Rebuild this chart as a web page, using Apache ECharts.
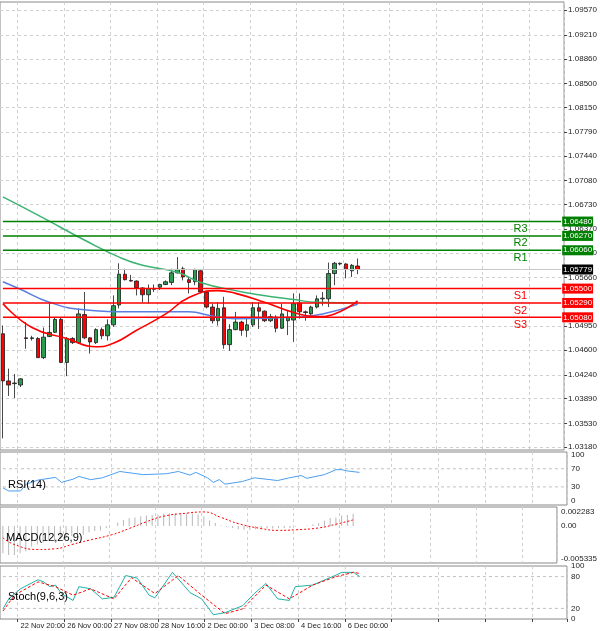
<!DOCTYPE html>
<html><head><meta charset="utf-8">
<script src="https://cdn.jsdelivr.net/npm/echarts@6/dist/echarts.min.js"></script>
<style>html,body{margin:0;padding:0;background:#fff}#c{width:600px;height:631px}</style>
</head><body><div id="c"></div>
<script>
// EURUSD H4 style chart: candles + MAs + pivots, RSI / MACD / Stoch panes
const SLOTS = 97
const TICKS = { 3: '22 Nov 20:00', 11: '26 Nov 00:00', 19: '27 Nov 08:00', 27: '28 Nov 16:00', 35: '2 Dec 00:00', 43: '3 Dec 08:00', 51: '4 Dec 16:00', 59: '6 Dec 00:00' }
const PRICE_TICKS = [1.0957, 1.0921, 1.0886, 1.085, 1.0815, 1.0779, 1.0744, 1.0708, 1.0673, 1.0637, 1.0602, 1.0566, 1.0495, 1.046, 1.0424, 1.0389, 1.0353, 1.0318]

// [open, close, low, high]
const candles = [
  [1.0484,1.0415,1.0331,1.0496],[1.0415,1.0409,1.0393,1.0433],[1.0411,1.0412,1.0390,1.0425],[1.0409,1.0418,1.0406,1.0419],
  [1.0478,1.0477,1.0462,1.0501],[1.0477,1.0478,1.0474,1.0481],[1.0477,1.0449,1.0449,1.0479],[1.0449,1.0479,1.0447,1.0493],
  [1.0480,1.0486,1.0479,1.0530],[1.0486,1.0505,1.0485,1.0508],[1.0505,1.0442,1.0441,1.0507],[1.0442,1.0477,1.0422,1.0479],
  [1.0477,1.0471,1.0469,1.0479],[1.0471,1.0513,1.0469,1.0521],[1.0512,1.0478,1.0476,1.0545],[1.0478,1.0472,1.0455,1.0479],
  [1.0471,1.0490,1.0469,1.0492],[1.0490,1.0481,1.0476,1.0493],[1.0481,1.0497,1.0474,1.0505],[1.0497,1.0525,1.0494,1.0540],
  [1.0526,1.0571,1.0521,1.0587],[1.0571,1.0563,1.0562,1.0579],[1.0562,1.0561,1.0560,1.0570],[1.0561,1.0551,1.0540,1.0562],
  [1.0551,1.0541,1.0530,1.0552],[1.0541,1.0550,1.0528,1.0556],[1.0549,1.0550,1.0545,1.0556],[1.0552,1.0556,1.0548,1.0557],
  [1.0556,1.0560,1.0555,1.0562],[1.0559,1.0573,1.0555,1.0579],[1.0573,1.0578,1.0572,1.0596],[1.0579,1.0567,1.0562,1.0582],
  [1.0563,1.0559,1.0543,1.0567],[1.0560,1.0578,1.0555,1.0579],[1.0576,1.0545,1.0543,1.0577],[1.0545,1.0523,1.0521,1.0545],
  [1.0523,1.0503,1.0499,1.0528],[1.0503,1.0521,1.0496,1.0530],[1.0522,1.0468,1.0462,1.0538],[1.0468,1.0490,1.0459,1.0498],
  [1.0490,1.0501,1.0489,1.0516],[1.0501,1.0489,1.0481,1.0503],[1.0489,1.0497,1.0479,1.0506],[1.0497,1.0522,1.0494,1.0530],
  [1.0522,1.0517,1.0491,1.0530],[1.0517,1.0503,1.0501,1.0518],[1.0503,1.0509,1.0501,1.0513],[1.0508,1.0492,1.0486,1.0511],
  [1.0492,1.0513,1.0491,1.0528],[1.0503,1.0508,1.0482,1.0518],[1.0504,1.0528,1.0472,1.0543],[1.0529,1.0516,1.0506,1.0543],
  [1.0516,1.0515,1.0503,1.0518],[1.0513,1.0523,1.0511,1.0525],[1.0523,1.0535,1.0521,1.0540],[1.0535,1.0536,1.0525,1.0545],
  [1.0535,1.0572,1.0523,1.0588],[1.0572,1.0587,1.0555,1.0589],[1.0586,1.0587,1.0584,1.0588],[1.0586,1.0578,1.0565,1.0587],
  [1.0576,1.0584,1.0567,1.0586],[1.0583,1.0578,1.0571,1.0594]
]
const maSlow = [[0,1.0684],[7,1.0653],[14,1.0621],[20,1.0596],[24,1.0584],[30,1.0574],[34,1.0559],[40,1.0547],[44,1.0541],[50,1.0534],[54,1.0530],[61,1.0529]]
const maMid = [[0,1.0560],[3,1.0549],[8,1.0530],[14,1.0519],[22,1.0516],[32,1.0516],[36,1.0510],[40,1.0506],[50,1.0508],[55,1.0513],[61,1.0527]]
const maFast = [[0,1.0528],[5,1.0493],[11,1.0477],[16,1.0465],[19,1.0470],[23,1.0489],[28,1.0513],[32,1.0537],[37,1.0547],[40,1.0543],[45,1.0530],[50,1.0515],[54,1.0509],[57,1.0513],[61,1.0532]]
const pivotNames = ['R3', 'R2', 'R1', 'S1', 'S2', 'S3']
const pivotValues = [1.0648, 1.0627, 1.0606, 1.0550, 1.0529, 1.0508]
const lastPrice = 1.05779

const rsi = [[0,28],[1,21],[3,21],[4,36],[6,45],[9,51],[10,40],[12,47],[13,53],[15,46],[17,50],[20,64],[24,57],[28,59],[30,64],[32,56],[33,62],[35,50],[36,40],[37,46],[38,36],[41,42],[43,50],[47,44],[49,50],[51,55],[52,49],[55,57],[57,68],[58,68],[59,65],[61,62]]
const macdHist = [-0.0044,-0.0047,-0.0047,-0.0044,-0.0041,-0.0033,-0.0030,-0.0027,-0.0023,-0.0025,-0.0021,-0.0019,-0.0016,-0.0014,-0.0014,-0.0010,-0.0008,-0.0007,-0.0003,0,
  0.0006,0.0010,0.0013,0.0014,0.0016,0.0017,0.0018,0.0019,0.0020,0.0021,0.0021,0.0021,0.0021,0.0020,0.0019,0.0016,0.0009,0.0005,0.0001,-0.0001,
  -0.0003,-0.0005,-0.0006,-0.0006,-0.0005,-0.0005,-0.0004,-0.0004,-0.0003,-0.0003,-0.0003,-0.0001,0,0.0001,0.0003,0.0005,0.0009,0.0013,0.0014,0.0017,0.0018,0.0020]
const macdSignal = [[0,-0.0019],[2,-0.0030],[6,-0.0038],[9,-0.0037],[12,-0.0030],[15,-0.0023],[19,-0.0014],[22,-0.0004],[25,0.0007],[28,0.0016],[32,0.0021],[35,0.0023],[38,0.0014],[41,0.0004],[45,-0.0004],[48,-0.0007],[51,-0.0006],[55,-0.0003],[58,0.0003],[61,0.0010]]
const stochK = [[0,19],[1,38],[3,57],[6,74],[7,70],[8,61],[9,64],[10,48],[12,35],[13,61],[15,57],[17,38],[19,41],[21,82],[23,77],[25,45],[26,40],[29,88],[32,50],[34,38],[36,8],[38,12],[41,25],[43,48],[45,67],[47,38],[49,35],[50,61],[53,64],[57,83],[58,88],[60,88],[61,80]]
const stochD = [[0,15],[2,45],[6,70],[9,61],[12,45],[15,57],[19,38],[22,78],[26,48],[30,82],[34,45],[38,10],[41,19],[45,64],[49,38],[53,64],[57,80],[60,88],[61,86]]

const LAST = SLOTS - 1, TAG = 89
const cats = Array.from({ length: SLOTS }, (_, i) => TICKS[i] || '')
const isTick = i => i >= 3 && (i - 3) % 8 === 0
const dash = { show: true, lineStyle: { color: '#d0d0d0', type: [3, 3], width: 1 } }
const axLab = { color: '#222', fontSize: 8, fontFamily: 'Liberation Sans' }

const grids = [
  { left: 0, right: 33, top: 2, height: 448 },
  { left: 0, right: 33, top: 452, height: 53 },
  { left: 0, right: 33, top: 507, height: 56 },
  { left: 0, right: 33, top: 566, height: 53 }
].map(g => Object.assign(g, { show: true, borderColor: '#888', borderWidth: 1 }))

const xAxes = grids.map((g, k) => ({
  type: 'category', gridIndex: k, data: cats, boundaryGap: true,
  axisLine: { show: false }, axisTick: { show: k === 3, interval: isTick, length: 3, lineStyle: { color: '#444' } },
  axisLabel: { show: k === 3, interval: isTick, hideOverlap: false, ...axLab, fontSize: 7.5, align: 'left', margin: 3 },
  splitLine: { ...dash, interval: isTick }
}))

const yAx = (k, min, max, vals, fmt, grid) => ({ gridIndex: k, position: 'right', min, max,
  axisLine: { show: false },
  axisTick: { show: grid, length: 3, customValues: vals, lineStyle: { color: '#444' } },
  axisLabel: { ...axLab, margin: 4, customValues: vals, formatter: fmt },
  splitLine: grid ? { ...dash, customValues: vals } : { show: false } })
const yAxes = [
  yAx(0, 1.0314, 1.0969, PRICE_TICKS, v => v.toFixed(5), true),
  yAx(1, -10, 107, [0, 30, 70, 100], v => String(v), false),
  yAx(2, -0.0060, 0.0031, [-0.005335, 0, 0.002283], v => v === 0 ? '0.00' : v.toFixed(6), false),
  yAx(3, 0, 100, [0, 20, 80, 100], v => String(v), false)
]

// horizontal level as a line across the pane; boxed price tag at the axis end
const level = (pane, v, color, width, tag, tagBg, name) => ({
  type: 'line', xAxisIndex: pane, yAxisIndex: pane, symbol: 'circle', symbolSize: 0.1, showSymbol: true, silent: true,
  itemStyle: { color },
  data: [[0, v], name ? { value: [TAG, v], label: { show: true, position: 'bottom', distance: 2, formatter: name, color, fontSize: 11 } } : [TAG, v], [LAST, v]],
  lineStyle: { color, width, type: pane === 0 ? 'solid' : [3, 3] },
  labelLayout: { hideOverlap: false },
  endLabel: tag ? { show: true, formatter: tag, color: '#fff', backgroundColor: tagBg, fontSize: 8, padding: [1, 1], distance: 1 } : { show: false }
})

const series = [
  { type: 'line', xAxisIndex: 0, yAxisIndex: 0, data: maSlow, smooth: true, symbol: 'none', lineStyle: { color: '#3cb371', width: 1.5 } },
  { type: 'line', xAxisIndex: 0, yAxisIndex: 0, data: maMid, smooth: true, symbol: 'none', lineStyle: { color: '#5a7de0', width: 1.5 } },
  { type: 'line', xAxisIndex: 0, yAxisIndex: 0, data: maFast, smooth: true, symbol: 'none', lineStyle: { color: '#ff0000', width: 1.6 } },
  level(0, lastPrice, '#c8c8c8', 1, lastPrice.toFixed(5), '#000', null)
]
pivotNames.forEach((n, i) => {
  const c = n[0] === 'R' ? '#008000' : '#ff0000'
  series.push(level(0, pivotValues[i], c, 1.5, pivotValues[i].toFixed(5), c, n))
})
series.push(
  { type: 'candlestick', xAxisIndex: 0, yAxisIndex: 0, data: candles, barWidth: 4,
    itemStyle: { color: '#2e9a50', color0: '#ff0000', borderColor: '#1a1a1a', borderColor0: '#1a1a1a', borderWidth: 0.8 } },
  level(1, 30, '#c0c0c0', 1), level(1, 70, '#c0c0c0', 1),
  { type: 'line', xAxisIndex: 1, yAxisIndex: 1, data: rsi, symbol: 'none', lineStyle: { color: '#4a9ff0', width: 1 } },
  { type: 'bar', xAxisIndex: 2, yAxisIndex: 2, data: macdHist, barWidth: 1, itemStyle: { color: '#b8b8b8' } },
  { type: 'line', xAxisIndex: 2, yAxisIndex: 2, data: macdSignal, smooth: true, symbol: 'none', lineStyle: { color: '#ff0000', width: 1, type: [2, 2] } },
  level(3, 20, '#c0c0c0', 1), level(3, 80, '#c0c0c0', 1),
  { type: 'line', xAxisIndex: 3, yAxisIndex: 3, data: stochK, symbol: 'none', lineStyle: { color: '#20b2aa', width: 1 } },
  { type: 'line', xAxisIndex: 3, yAxisIndex: 3, data: stochD, symbol: 'none', lineStyle: { color: '#ff0000', width: 1, type: [3, 2] } }
)

const chart = echarts.init(document.getElementById('c'))
chart.setOption({
  animation: false,
  title: [
    { text: 'RSI(14)', left: 3, top: 474 },
    { text: 'MACD(12,26,9)', left: 1, top: 527 },
    { text: 'Stoch(9,6,3)', left: 3, top: 586 }
  ].map(t => Object.assign(t, { textStyle: { fontSize: 11, fontWeight: 'normal', color: '#000', fontFamily: 'Liberation Sans' } })),
  grid: grids, xAxis: xAxes, yAxis: yAxes, series
})
</script></body></html>
